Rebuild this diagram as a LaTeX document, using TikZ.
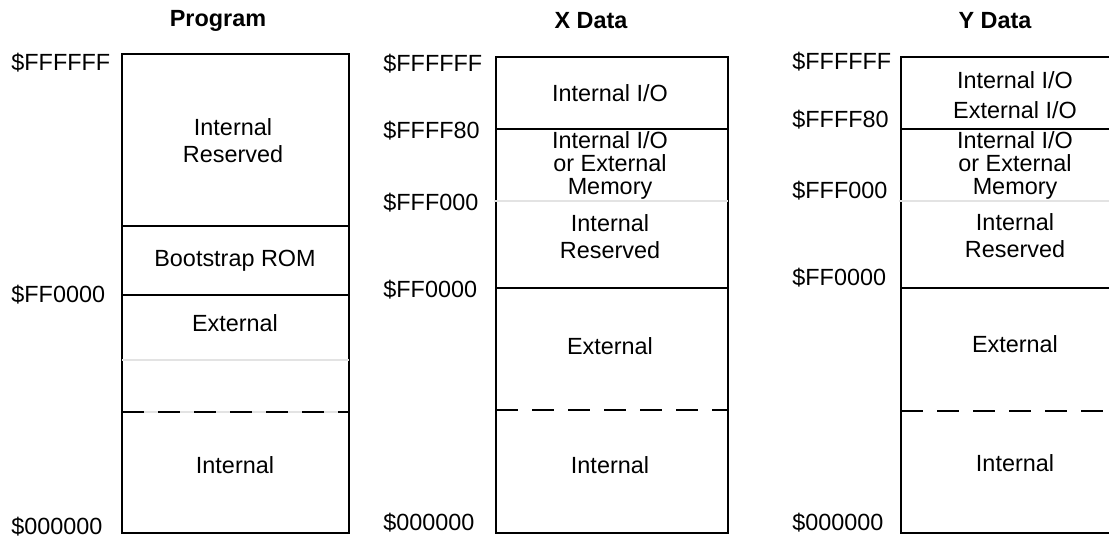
\documentclass[tikz,border=0pt]{standalone}
\usepackage{fontspec}
\setmainfont{Liberation Sans}
\usetikzlibrary{positioning}

\begin{document}
\begin{tikzpicture}[x=0.5pt,y=-0.5pt,
  memline/.style={line width=1.2pt,black},
  softline/.style={line width=1.2pt,gray!22},
  splitline/.style={memline,dash pattern=on 11pt off 7pt},
  title/.style={font=\fontsize{11.7}{13}\selectfont\bfseries,inner sep=0pt},
  addr/.style={font=\fontsize{11.7}{13}\selectfont,anchor=west,inner sep=0pt},
  region/.style={font=\fontsize{11.7}{13.5}\selectfont,align=center,inner sep=0pt},
  tightregion/.style={font=\fontsize{11.7}{11.5}\selectfont,align=center,inner sep=0pt}]
  \useasboundingbox (0,0) rectangle (1109,539);
  \clip (0,0) rectangle (1109,539);
  % Titel
  \node[title] (prog) at (218,21) {Program};
  \node[title] (xdat) at (591,21) {X Data};
  \node[title] (ydat) at (995,21) {Y Data};

  % Program
  \draw[memline] (122,54) rectangle (349,533);
  \draw[memline] (122,226) -- (349,226);
  \draw[memline] (122,295) -- (349,295);
  \draw[softline] (122,360) -- (349,360);
  \draw[softline] (122,412) -- (349,412);
  \draw[splitline] (122,412) -- (349,412);
  \node[addr] (p-top) at (11,63) {\$FFFFFF};
  \node[addr] (p-ff) at (11,295) {\$FF0000};
  \node[addr] (p-bot) at (11,527) {\$000000};
  \node[region] (p-res) at (233,141) {Internal\\Reserved};
  \node[region] (p-rom) at (235,261) {Bootstrap ROM};
  \node[region] (p-ext) at (235,323) {External};
  \node[region] (p-int) at (235,465) {Internal};

  % X Data
  \draw[memline] (496,57) rectangle (728,533);
  \draw[memline] (496,129) -- (728,129);
  \draw[memline] (496,288) -- (728,288);
  \draw[softline] (494,201) -- (728,201);
  \draw[splitline] (496,410) -- (728,410);
  \node[addr] (x-top) at (383,64) {\$FFFFFF};
  \node[addr] (x-f80) at (383,131) {\$FFFF80};
  \node[addr] (x-f000) at (383,203) {\$FFF000};
  \node[addr] (x-ff) at (383,290) {\$FF0000};
  \node[addr] (x-bot) at (383,523) {\$000000};
  \node[region] (x-io) at (610,93) {Internal I/O};
  \node[tightregion] (x-mem) at (610,165) {Internal I/O\\or External\\Memory};
  \node[region] (x-res) at (610,237) {Internal\\Reserved};
  \node[region] (x-ext) at (610,346) {External};
  \node[region] (x-int) at (610,465) {Internal};

  % Y Data (rechter Rand liegt ausserhalb)
  \draw[memline] (901,57) rectangle (1128,533);
  \draw[memline] (901,129) -- (1128,129);
  \draw[memline] (901,288) -- (1128,288);
  \draw[softline] (899,201) -- (1128,201);
  \draw[splitline] (901,411) -- (1128,411);
  \node[addr] (y-top) at (792,62) {\$FFFFFF};
  \node[addr] (y-f80) at (792,120) {\$FFFF80};
  \node[addr] (y-f000) at (792,191) {\$FFF000};
  \node[addr] (y-ff) at (792,278) {\$FF0000};
  \node[addr] (y-bot) at (792,523) {\$000000};
  \node[region] (y-io) at (1015,80) {Internal I/O};
  \node[region] (y-eio) at (1015,110) {External I/O};
  \node[tightregion] (y-mem) at (1015,165) {Internal I/O\\or External\\Memory};
  \node[region] (y-res) at (1015,236) {Internal\\Reserved};
  \node[region] (y-ext) at (1015,344) {External};
  \node[region] (y-int) at (1015,463) {Internal};
\end{tikzpicture}
\end{document}
